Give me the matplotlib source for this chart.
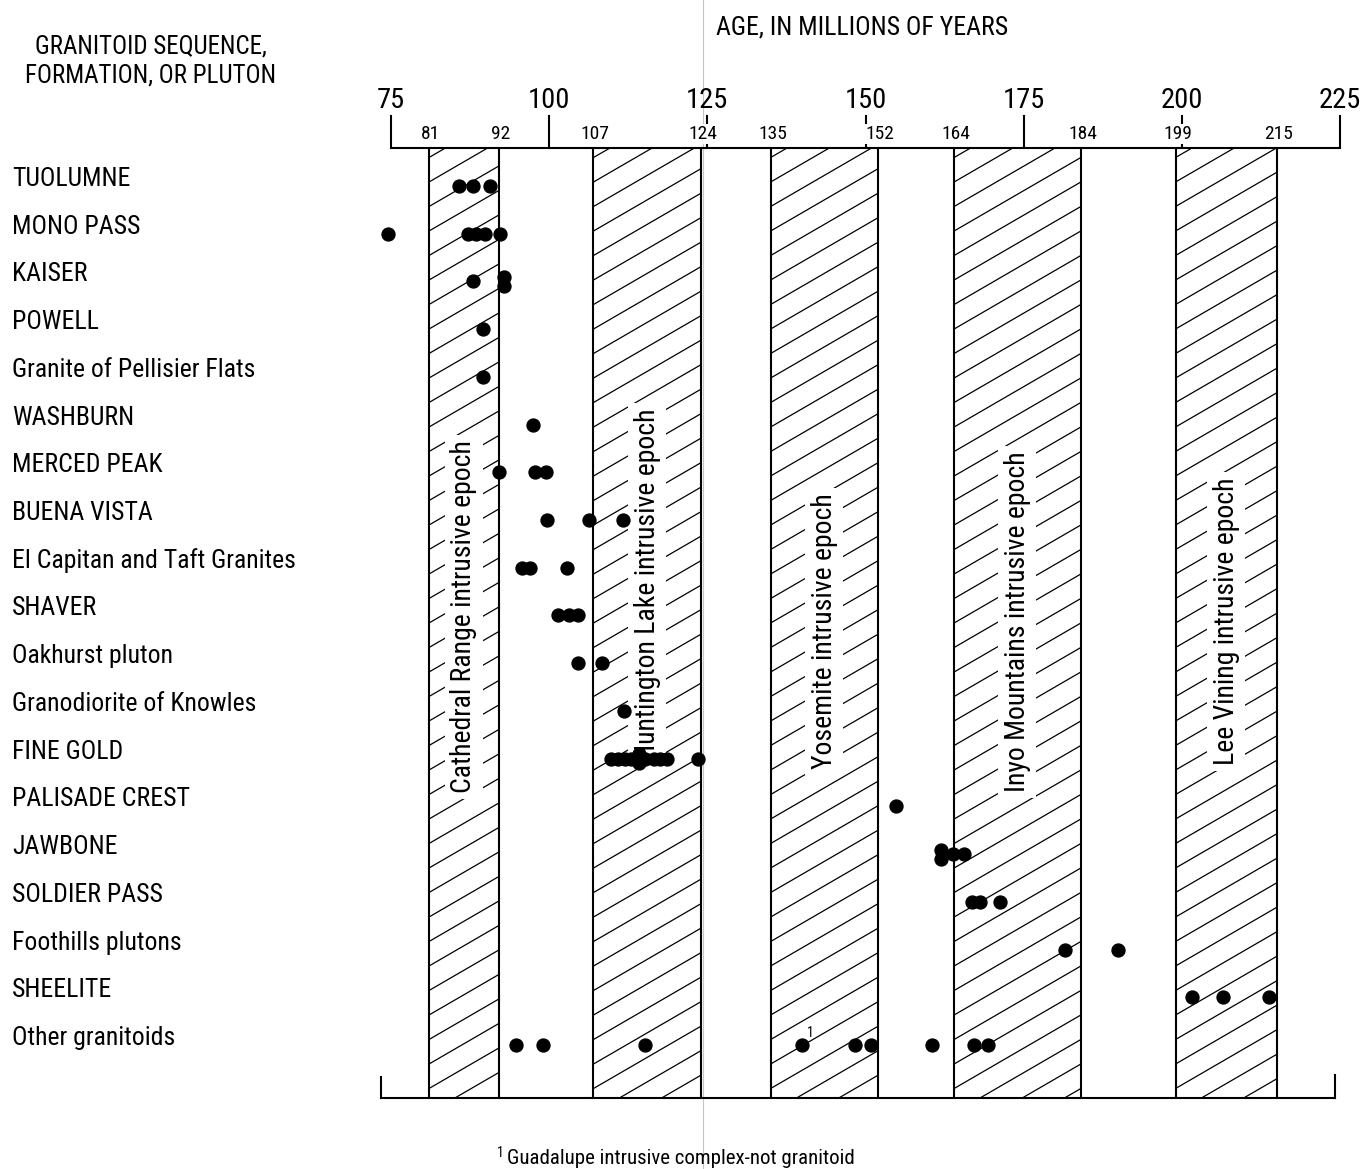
import matplotlib
matplotlib.use('Agg')
import matplotlib.pyplot as plt
from matplotlib.patches import Rectangle
from matplotlib.lines import Line2D
import numpy as np

plt.rcParams['font.family'] = ['Liberation Sans Narrow', 'Roboto Condensed', 'Liberation Sans', 'DejaVu Sans']

# ---------------- data ----------------
row_labels = ["TUOLUMNE", "MONO PASS", "KAISER", "POWELL", "Granite of Pellisier Flats",
              "WASHBURN", "MERCED PEAK", "BUENA VISTA", "El Capitan and Taft Granites",
              "SHAVER", "Oakhurst pluton", "Granodiorite of Knowles", "FINE GOLD",
              "PALISADE CREST", "JAWBONE", "SOLDIER PASS", "Foothills plutons",
              "SHEELITE", "Other granitoids"]

ages_tuolumne = [85.8, 87.9, 90.6]
ages_mono_pass = [74.6, 87.2, 88.4, 89.9, 92.2]
ages_kaiser = [87.9, 92.8, 92.8]
ages_powell = [89.6]
ages_pellisier = [89.6]
ages_washburn = [97.5]
ages_merced_peak = [92.1, 97.7, 99.5]
ages_buena_vista = [99.7, 106.3, 111.7]
ages_el_capitan = [95.7, 96.9, 102.8]
ages_shaver = [101.4, 103.2, 104.5]
ages_oakhurst = [104.6, 108.3]
ages_knowles = [111.8]
ages_fine_gold = [109.7, 110.9, 112.0, 113.0, 114.2, 114.2, 115.1, 116.5, 117.5, 118.7, 123.6]
ages_palisade = [154.8]
ages_jawbone = [162.0, 162.0, 163.8, 165.6]
ages_soldier_pass = [166.9, 168.1, 171.3]
ages_foothills = [181.6, 189.9]
ages_sheelite = [201.6, 206.5, 213.8]
ages_other = [94.8, 99.1, 115.1, 140.0, 148.3, 150.9, 160.5, 167.1, 169.3]

row_ages = [ages_tuolumne, ages_mono_pass, ages_kaiser, ages_powell, ages_pellisier,
            ages_washburn, ages_merced_peak, ages_buena_vista, ages_el_capitan,
            ages_shaver, ages_oakhurst, ages_knowles, ages_fine_gold, ages_palisade,
            ages_jawbone, ages_soldier_pass, ages_foothills, ages_sheelite, ages_other]

epoch_starts = [81, 107, 135, 164, 199]
epoch_ends = [92, 124, 152, 184, 215]
epoch_names = ["Cathedral Range intrusive epoch", "Huntington Lake intrusive epoch",
               "Yosemite intrusive epoch", "Inyo Mountains intrusive epoch",
               "Lee Vining intrusive epoch"]

major_ticks = [75, 100, 125, 150, 175, 200, 225]
footnote_age = 140.0   # point carrying footnote mark 1

# ---------------- layout ----------------
W, H = 1363, 1169
fig = plt.figure(figsize=(W / 100, H / 100), dpi=100)
fig.patch.set_facecolor('white')

ax_left_px, ax_right_px = 391, 1340
ax_top_px, ax_bot_px = 148, 1098
ax = fig.add_axes([ax_left_px / W, 1 - ax_bot_px / H,
                   (ax_right_px - ax_left_px) / W, (ax_bot_px - ax_top_px) / H])
xmin, xmax = 75, 225
row_px = 47.72
first_row_px = 186
ytop = -(first_row_px - ax_top_px) / row_px
ybot = (ax_bot_px - first_row_px) / row_px
ax.set_xlim(xmin, xmax)
ax.set_ylim(ybot, ytop)
ax.axis('off')

px_x = (ax_right_px - ax_left_px) / (xmax - xmin)  # px per Myr
px_y = row_px                                        # px per row

lw_main = 1.5
# top axis line
ax.plot([xmin, xmax], [ytop, ytop], color='black', lw=lw_main, clip_on=False, solid_capstyle='butt')
# bottom line with end ticks
xb0 = xmin - 10 / px_x
xb1 = xmax - 5 / px_x
ax.plot([xb0, xb1], [ybot, ybot], color='black', lw=lw_main, clip_on=False)
ax.plot([xb0, xb0], [ybot, ybot - 21 / px_y], color='black', lw=lw_main, clip_on=False)
ax.plot([xb1, xb1], [ybot, ybot - 23 / px_y], color='black', lw=lw_main, clip_on=False)

# major ticks above top line
tick_len = 32 / px_y
for t in major_ticks:
    ax.plot([t, t], [ytop, ytop - tick_len], color='black', lw=lw_main, clip_on=False, zorder=1)
    ax.text(t, ytop - 47 / px_y, str(t), ha='center', va='center', fontsize=20.5, clip_on=False)

# epoch boundary labels
for b in sorted(epoch_starts + epoch_ends):
    ax.text(b + 0.3, ytop - 14 / px_y, str(b), ha='center', va='center', fontsize=14,
            clip_on=False, zorder=2,
            bbox=dict(facecolor='white', edgecolor='none', pad=1.0))

# bands with custom hatching
slope = 0.58 * px_x / px_y      # rows per Myr
spacing = 24.5 / px_y
text_rows = [9.03, 8.36, 9.33, 9.14, 9.12]
for s, e, name, tr in zip(epoch_starts, epoch_ends, epoch_names, text_rows):
    for xe in (s, e):
        ax.plot([xe, xe], [ytop, ybot], color='black', lw=lw_main, zorder=2)
    clip = Rectangle((s, ytop), e - s, ybot - ytop, transform=ax.transData)
    c_vals = np.arange(ytop + 0.2, ybot + slope * (e - s) + spacing, spacing)
    for c in c_vals:
        ln, = ax.plot([s, e], [c, c - slope * (e - s)], color='black', lw=0.9, zorder=1)
        ln.set_clip_path(clip)
    ax.text((s + e) / 2, tr, name, rotation=90, ha='center', va='center', fontsize=20,
            zorder=3, bbox=dict(facecolor='white', edgecolor='none', pad=4))

# data points
for i, ages in enumerate(row_ages):
    ys = []
    for j, a in enumerate(ages):
        n = ages.count(a)
        if n > 1:
            k = [m for m, v in enumerate(ages) if v == a].index(j)
            ys.append(i + (k - (n - 1) / 2) * 9 / px_y)
        else:
            ys.append(i)
    ax.plot(ages, ys, 'o', color='black', ms=9.3, mec='black', clip_on=False, zorder=5)

# footnote marker
ax.text(footnote_age + 0.8, len(row_ages) - 1 - 12 / px_y, "1", fontsize=10,
        ha='left', va='center', zorder=6)

# row labels
for i, lab in enumerate(row_labels):
    ypx = first_row_px + i * row_px
    fig.text(12 / W, 1 - ypx / H, lab, ha='left', va='baseline', fontsize=18.5)

# headers
fig.text(151 / W, 1 - 61 / H, "GRANITOID SEQUENCE,\nFORMATION, OR PLUTON", ha='center',
         va='center', multialignment='center', fontsize=18, linespacing=1.25)
fig.text(862 / W, 1 - 27 / H, "AGE, IN MILLIONS OF YEARS", ha='center', va='center', fontsize=18.5)

# footnote
fig.text(497 / W, 1 - 1153 / H, "1", ha='left', va='center', fontsize=10)
fig.text(507 / W, 1 - 1158 / H, "Guadalupe intrusive complex-not granitoid", ha='left',
         va='center', fontsize=15)

# scan fold line
fig.add_artist(Line2D([703 / W, 703 / W], [0, 1], color='#c4c4c4', lw=0.8, zorder=0))

fig.savefig('out.png', dpi=100, facecolor='white')
